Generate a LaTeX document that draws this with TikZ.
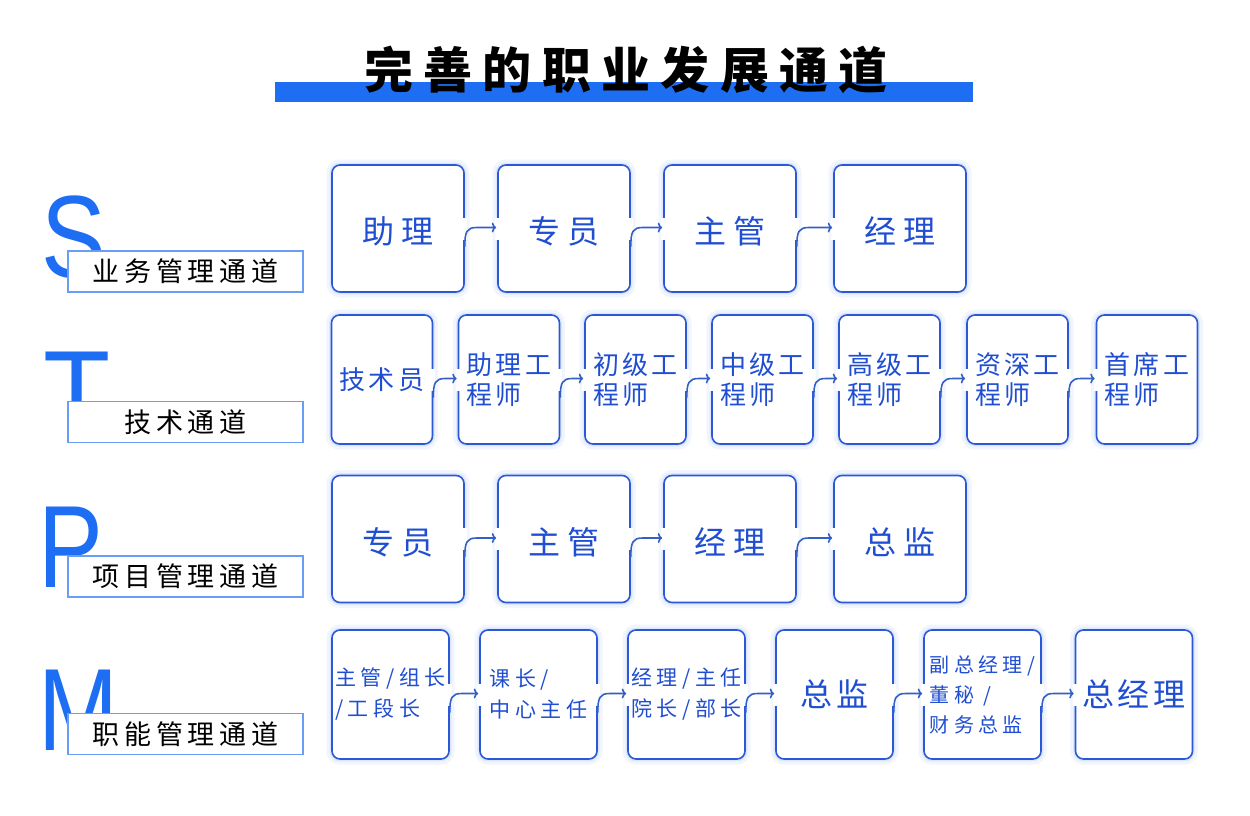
\documentclass[tikz,border=0pt]{standalone}
\usepackage{fontspec}
\setmainfont{Noto Sans CJK SC}
\newfontfamily\latinf{Liberation Sans}
\usetikzlibrary{arrows.meta,calc}
\definecolor{brand}{HTML}{1E6EF4}
\definecolor{boxline}{HTML}{2A58D6}
\definecolor{boxtext}{HTML}{1F4ED2}
\definecolor{arrowc}{HTML}{3460C6}
\definecolor{labline}{HTML}{6A9EF6}
\definecolor{glowa}{HTML}{F1F5FD}
\definecolor{glowb}{HTML}{DFE8FB}
\newcommand{\fsz}[2]{\fontsize{#1}{#2}\selectfont}
\newcommand{\lsp}[1]{\addfontfeatures{LetterSpace=#1}}
\newcommand{\linkboxes}[2]{%
  \draw[gapcut] ($(#1.east)+(0,-11)$) -- ($(#1.east)+(0,11)$);
  \draw[gapcut] ($(#2.west)+(0,-11)$) -- ($(#2.west)+(0,11)$);
  \draw[linkarrow] ($(#1.east)+(0,18)$) .. controls ($(#1.east)+(0,3)$) and ($(#1.east)+(2,-1)$) .. ($(#1.east)+(12,-1)$) -- ($(#2.west)+(-1,-1)$);
}
\begin{document}
\begin{tikzpicture}[x=1pt,y=-1pt,
  card/.style={draw=boxline, line width=1.6pt, fill=white, rounded corners=8pt,
    inner sep=0pt, align=left, text=boxtext,
    preaction={draw=glowa, line width=11pt},
    preaction={draw=glowb, line width=5pt}},
  wide/.style={card, minimum width=132pt, minimum height=127pt, font=\fsz{32}{38}\lsp{20},
    text height=34pt, text depth=4pt},
  narrow/.style={card, minimum width=101pt, minimum height=129pt, font=\fsz{26}{30}\lsp{13}},
  mid/.style={card, minimum width=117pt, minimum height=129pt, font=\fsz{21}{31}\lsp{22}},
  midbig/.style={mid, font=\fsz{32}{36}\lsp{10}},
  labelbox/.style={draw=labline, line width=1.3pt, fill=white, inner sep=0pt,
    minimum width=235pt, minimum height=41pt, font=\fsz{27}{30}\lsp{18}},
  bigletter/.style={text=brand, inner sep=0pt, anchor=base west, font=\latinf\fsz{117}{117}},
  gapcut/.style={draw=white, line width=4pt},
  linkarrow/.style={draw=arrowc, line width=1.6pt, -{To[length=4.5pt,width=10pt]}}
]
\fill[white] (0,0) rectangle (1250,816);
\useasboundingbox (0,0) rectangle (1250,816);

% title
\fill[brand] (275,82) rectangle (973,102);
\node[font=\fsz{49}{50}\bfseries\lsp{21}, inner sep=0pt] (title) at (626,70) {完善的职业发展通道};

% big letters
\node[bigletter, xscale=0.83] (S) at (41,277) {S};
\node[bigletter, xscale=0.94] (T) at (43,432) {T};
\node[bigletter, xscale=0.83] (P) at (38,587) {P};
\node[bigletter, xscale=0.82] (M) at (38,750) {M};

% channel labels
\node[labelbox] (Slab) at (185.5,271.5) {业务管理通道};
\node[labelbox] (Tlab) at (185.5,422) {技术通道};
\node[labelbox] (Plab) at (185.5,576.5) {项目管理通道};
\node[labelbox] (Mlab) at (185.5,734) {职能管理通道};

% S row
\node[wide] (s1) at (398,228.5) {助理};
\node[wide] (s2) at (564,228.5) {专员};
\node[wide] (s3) at (730,228.5) {主管};
\node[wide] (s4) at (900,228.5) {经理};

% T row
\node[narrow] (t1) at (382,379.5) {技术员};
\node[narrow] (t2) at (509,379.5) {助理工\\程师};
\node[narrow] (t3) at (635.5,379.5) {初级工\\程师};
\node[narrow] (t4) at (762.5,379.5) {中级工\\程师};
\node[narrow] (t5) at (889.5,379.5) {高级工\\程师};
\node[narrow] (t6) at (1017.5,379.5) {资深工\\程师};
\node[narrow] (t7) at (1147,379.5) {首席工\\程师};

% P row
\node[wide] (p1) at (398,539) {专员};
\node[wide] (p2) at (564,539) {主管};
\node[wide] (p3) at (730,539) {经理};
\node[wide] (p4) at (900,539) {总监};

% M row
\node[mid] (m1) at (390.5,694.5) {主管/组长\\/工段长};
\node[mid] (m2) at (538.5,694.5) {课长/\\中心主任};
\node[mid] (m3) at (686.5,694.5) {经理/主任\\院长/部长};
\node[midbig] (m4) at (834.5,694.5) {总监};
\node[mid, font=\fsz{20}{30}\lsp{22}] (m5) at (982.5,694.5) {副总经理/\\董秘 /\\财务总监};
\node[midbig] (m6) at (1134,694.5) {总经理};

% connectors
\linkboxes{s1}{s2}\linkboxes{s2}{s3}\linkboxes{s3}{s4}
\linkboxes{t1}{t2}\linkboxes{t2}{t3}\linkboxes{t3}{t4}\linkboxes{t4}{t5}\linkboxes{t5}{t6}\linkboxes{t6}{t7}
\linkboxes{p1}{p2}\linkboxes{p2}{p3}\linkboxes{p3}{p4}
\linkboxes{m1}{m2}\linkboxes{m2}{m3}\linkboxes{m3}{m4}\linkboxes{m4}{m5}\linkboxes{m5}{m6}
\end{tikzpicture}
\end{document}
